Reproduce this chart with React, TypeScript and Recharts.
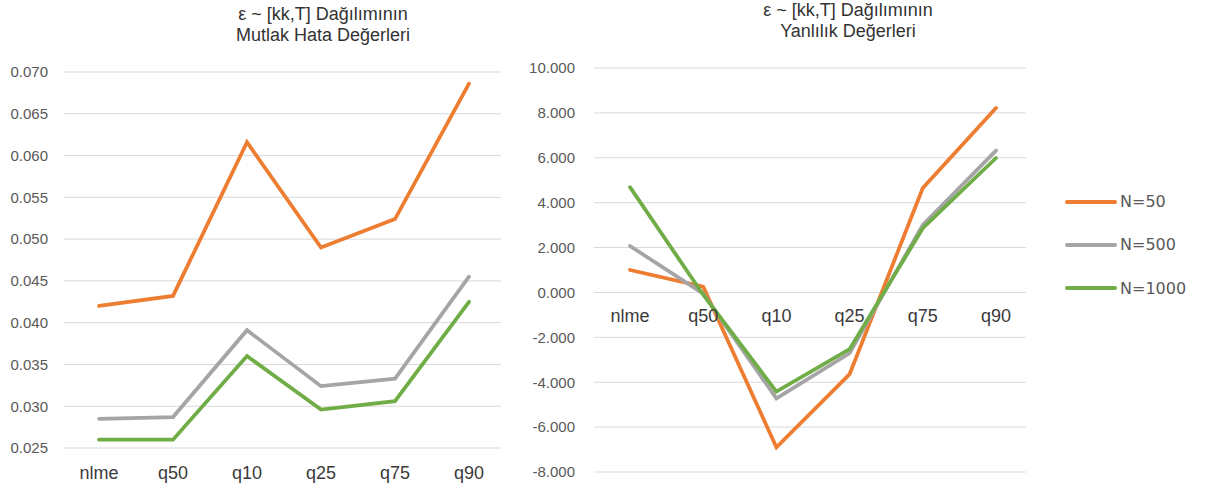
import { LineChart, Line, XAxis, YAxis, CartesianGrid, LabelList } from 'recharts';

const categories = ['nlme', 'q50', 'q10', 'q25', 'q75', 'q90'];
const seriesNames = ['N=50', 'N=500', 'N=1000'];
const seriesColors = ['#ED7D31', '#A5A5A5', '#70AD47'];

// mutlak hata
const maeN50 = [0.042, 0.0432, 0.0616, 0.049, 0.0524, 0.0686];
const maeN500 = [0.0285, 0.0287, 0.0391, 0.0324, 0.0333, 0.0455];
const maeN1000 = [0.026, 0.026, 0.036, 0.0296, 0.0306, 0.0425];
const maeTicks = [0.025, 0.03, 0.035, 0.04, 0.045, 0.05, 0.055, 0.06, 0.065, 0.07];

// yanlılık
const biasN50 = [1.0, 0.26, -6.9, -3.64, 4.65, 8.22];
const biasN500 = [2.07, -0.05, -4.72, -2.71, 3.01, 6.32];
const biasN1000 = [4.69, -0.1, -4.42, -2.53, 2.86, 5.99];
const biasTicks = [-8, -6, -4, -2, 0, 2, 4, 6, 8, 10];

const maeData = categories.map((name, i) => ({
    name,
    'N=50': maeN50[i],
    'N=500': maeN500[i],
    'N=1000': maeN1000[i],
}));

const biasData = categories.map((name, i) => ({
    name,
    'N=50': biasN50[i],
    'N=500': biasN500[i],
    'N=1000': biasN1000[i],
}));

const FONT = '"Liberation Sans", Arial, sans-serif';
const tickStyle = { fill: '#595959', fontSize: 15, fontFamily: FONT };
const catStyle = { fill: '#3a3a3a', fontSize: 18, fontFamily: FONT };

function Title({ lines, center, top }: { lines: string[]; center: number; top: number }) {
    return (
        <div
            style={{
                position: 'absolute',
                left: center - 150,
                top,
                width: 300,
                textAlign: 'center',
                fontFamily: FONT,
                fontSize: 18,
                lineHeight: '21px',
                color: '#333333',
            }}
        >
            {lines.map((l) => (
                <div key={l}>{l}</div>
            ))}
        </div>
    );
}

function renderLines() {
    return seriesNames.map((s, i) => (
        <Line
            key={s}
            type="linear"
            dataKey={s}
            stroke={seriesColors[i]}
            strokeWidth={3.75}
            strokeLinecap="round"
            dot={false}
            activeDot={false}
            isAnimationActive={false}
        />
    ));
}

export default function App() {
    return (
        <div style={{ position: 'absolute', left: 0, top: 0, width: 1208, height: 488, background: '#fff', overflow: 'hidden' }}>
            <Title lines={['ε ~ [kk,T] Dağılımının', 'Mutlak Hata Değerleri']} center={323} top={4} />
            <Title lines={['ε ~ [kk,T] Dağılımının', 'Yanlılık Değerleri']} center={848} top={0} />

            <div style={{ position: 'absolute', left: 0, top: 0 }}>
                <LineChart width={510} height={488} data={maeData} margin={{ top: 72, right: 9, bottom: 0, left: 0 }}>
                    <CartesianGrid vertical={false} stroke="#d9d9d9" />
                    <XAxis
                        dataKey="name"
                        height={40}
                        axisLine={false}
                        tickLine={false}
                        tick={catStyle}
                        tickMargin={12}
                        padding={{ left: 35, right: 32 }}
                    />
                    <YAxis
                        width={64}
                        domain={[0.025, 0.07]}
                        ticks={maeTicks}
                        tickFormatter={(v: number) => v.toFixed(3)}
                        axisLine={false}
                        tickLine={false}
                        tick={tickStyle}
                        tickMargin={10}
                    />
                    {renderLines()}
                </LineChart>
            </div>

            <div style={{ position: 'absolute', left: 520, top: 0 }}>
                <LineChart width={506} height={488} data={biasData} margin={{ top: 68, right: 0, bottom: 16, left: 0 }}>
                    <CartesianGrid vertical={false} stroke="#d9d9d9" />
                    <XAxis dataKey="name" hide padding={{ left: 36, right: 30 }} />
                    <YAxis
                        width={74}
                        domain={[-8, 10]}
                        ticks={biasTicks}
                        tickFormatter={(v: number) => v.toFixed(3)}
                        axisLine={false}
                        tickLine={false}
                        tick={tickStyle}
                        tickMargin={13}
                    />
                    {/* kategori etiketleri sıfır çizgisinde */}
                    <Line dataKey={() => 0} stroke="none" dot={false} activeDot={false} isAnimationActive={false}>
                        <LabelList dataKey="name" position="bottom" offset={17} fill="#3a3a3a" fontSize={18} fontFamily={FONT} />
                    </Line>
                    {renderLines()}
                </LineChart>
            </div>

            <div style={{ position: 'absolute', left: 1065, top: 180 }}>
                {seriesNames.map((s, i) => (
                    <div key={s} style={{ display: 'flex', alignItems: 'center', height: 43.3 }}>
                        <div style={{ width: 52, height: 4, borderRadius: 2, background: seriesColors[i] }} />
                        <span style={{ marginLeft: 3, fontFamily: '"DejaVu Sans", sans-serif', fontSize: 16, color: '#595959' }}>{s}</span>
                    </div>
                ))}
            </div>
        </div>
    );
}
